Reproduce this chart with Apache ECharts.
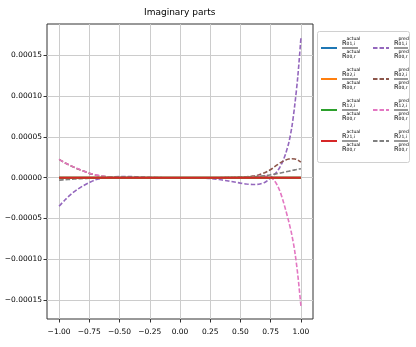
<!DOCTYPE html>
<html>
<head>
<meta charset="utf-8">
<script src="https://cdn.jsdelivr.net/npm/echarts@6/dist/echarts.min.js"></script>
<style>
  html, body { margin: 0; padding: 0; background: #fff; }
  #chart { width: 416px; height: 347px; }
</style>
</head>
<body>
<div id="chart"></div>
<script>
  // x samples (denser near the right end where the curves blow up)
  const xs = [-1, -0.95, -0.9, -0.85, -0.8, -0.75, -0.7, -0.65, -0.6, -0.55,
    -0.5, -0.45, -0.4, -0.35, -0.3, -0.25, -0.2, -0.15, -0.1, -0.05,
    0, 0.05, 0.1, 0.15, 0.2, 0.25, 0.3, 0.35, 0.4, 0.45,
    0.5, 0.55, 0.6, 0.65, 0.7, 0.725, 0.75, 0.775, 0.8, 0.825,
    0.85, 0.875, 0.9, 0.925, 0.95, 0.975, 1]

  // values in units of 1e-6
  const SCALE = 1e-6
  const actual01 = [0,0,0,0,0,0,0,0,0,0, 0,0,0,0,0,0,0,0,0,0, 0,0,0,0,0,0,0,0,0,0, 0,0,0,0,0,0,0,0,0,0, 0,0,0,0,0,0,0]
  const actual02 = [0,0,0,0,0,0,0,0,0,0, 0,0,0,0,0,0,0,0,0,0, 0,0,0,0,0,0,0,0,0,0, 0,0,0,0,0,0,0,0,0,0, 0,0,0,0,0,0,0]
  const actual12 = [0,0,0,0,0,0,0,0,0,0, 0,0,0,0,0,0,0,0,0,0, 0,0,0,0,0,0,0,0,0,0, 0,0,0,0,0,0,0,0,0,0, 0,0,0,0,0,0,0]
  const actual21 = [0,0,0,0,0,0,0,0,0,0, 0,0,0,0,0,0,0,0,0,0, 0,0,0,0,0,0,0,0,0,0, 0,0,0,0,0,0,0,0,0,0, 0,0,0,0,0,0,0]
  const pred01 = [-35, -27, -20, -14.5, -9.8, -6, -2.6, -0.8, 0.2, 1.0,
    1.4, 1.5, 1.4, 1.1, 0.8, 0.5, 0.3, 0.1, 0, 0,
    0, 0, -0.1, -0.2, -0.5, -1.0, -1.8, -2.8, -4.0, -5.3,
    -6.6, -7.7, -8.3, -8.0, -5.8, -3.4, 0, 3.2, 7, 12.5,
    20, 30, 43, 62, 90, 125, 171]
  const pred02 = [22.4, 18, 14.3, 11, 8.2, 5.3, 3.4, 2.0, 1.2, 0.5,
    0.2, 0.1, 0, 0, 0, 0, 0, 0, 0, 0,
    0, 0, 0, 0, 0, 0, 0, 0.1, 0.2, 0.4,
    0.7, 1.1, 2.0, 3.4, 6.0, 7.8, 10.0, 12.6, 15.3, 17.8,
    20, 21.7, 22.8, 23.3, 23.0, 21.6, 19.1]
  const pred12 = [22.4, 18.2, 14.5, 11.2, 8.3, 5.5, 3.5, 2.1, 1.1, 0.5,
    0.2, 0.1, 0, 0, 0, 0, 0, 0, 0, 0,
    0, 0, 0, 0, 0, 0, 0, 0, 0.1, 0.2,
    0.4, 0.7, 1.1, 1.6, 1.9, 1.6, 0.4, -2.8, -8, -16,
    -27, -40, -54, -70, -91, -120, -157]
  const pred21 = [-3.0, -2.4, -1.9, -1.4, -1.0, -0.7, -0.4, -0.2, -0.1, 0,
    0, 0, 0, 0, 0, 0, 0, 0, 0, 0,
    0, 0, 0, 0, 0, 0, 0, 0, 0.1, 0.2,
    0.4, 0.7, 1.1, 1.7, 2.5, 3.0, 3.6, 4.2, 4.9, 5.6,
    6.4, 7.2, 8.0, 8.8, 9.6, 10.3, 11.0]

  const xTicks = [-1, -0.75, -0.5, -0.25, 0, 0.25, 0.5, 0.75, 1]
  const yTicks = [-0.00015, -0.0001, -0.00005, 0, 0.00005, 0.0001, 0.00015]

  const seriesInfo = [
    { name: 'actual01', kind: 'actual', idx: '01', values: actual01, color: '#1f77b4', dashed: false },
    { name: 'actual02', kind: 'actual', idx: '02', values: actual02, color: '#ff7f0e', dashed: false },
    { name: 'actual12', kind: 'actual', idx: '12', values: actual12, color: '#2ca02c', dashed: false },
    { name: 'actual21', kind: 'actual', idx: '21', values: actual21, color: '#d62728', dashed: false },
    { name: 'pred01', kind: 'pred', idx: '01', values: pred01, color: '#9467bd', dashed: true },
    { name: 'pred02', kind: 'pred', idx: '02', values: pred02, color: '#8c564b', dashed: true },
    { name: 'pred12', kind: 'pred', idx: '12', values: pred12, color: '#e377c2', dashed: true },
    { name: 'pred21', kind: 'pred', idx: '21', values: pred21, color: '#7f7f7f', dashed: true }
  ]

  const FONT = 'DejaVu Sans'
  const minus = s => s.replace('-', '\u2212')

  /* R^{kind}_{idx,i} / R^{kind}_{00,r} as rich text */
  function fracLabel(name) {
    const s = seriesInfo.find(d => d.name === name)
    return '{sup|' + s.kind + '}\n{R|R}{sub|' + s.idx + ',i}\n{bar' + s.kind + '|}\n' +
      '{sup|' + s.kind + '}\n{R|R}{sub|00,r}'
  }

  const legendRich = {
    sup: { fontSize: 4.5, lineHeight: 4, padding: [0, 0, 0, 4.5], color: '#000', fontFamily: FONT },
    R: { fontSize: 6.5, lineHeight: 6, color: '#000', fontFamily: FONT },
    sub: { fontSize: 4.5, lineHeight: 6, verticalAlign: 'bottom', color: '#000', fontFamily: FONT },
    baractual: { width: 16, height: 0.8, lineHeight: 3, backgroundColor: '#000' },
    barpred: { width: 14, height: 0.8, lineHeight: 3, backgroundColor: '#000' }
  }

  function legendFor(kind, left) {
    return {
      data: seriesInfo.filter(d => d.kind === kind).map(d => d.name),
      orient: 'vertical',
      left: left,
      top: 36,
      padding: 0,
      itemWidth: 16,
      itemHeight: 8,
      itemGap: 7,
      selectedMode: false,
      itemStyle: { opacity: 0 },
      formatter: fracLabel,
      textStyle: { rich: legendRich, color: '#000' }
    }
  }

  const chart = echarts.init(document.getElementById('chart'))
  chart.setOption({
    animation: false,
    backgroundColor: '#fff',
    title: {
      text: 'Imaginary parts',
      left: 144,
      top: 8,
      padding: 0,
      textStyle: { fontFamily: FONT, fontSize: 9, fontWeight: 'normal', color: '#000' }
    },
    grid: {
      left: 47,
      right: 103,
      top: 24,
      bottom: 28,
      show: true,
      borderColor: '#333',
      borderWidth: 1
    },
    legend: [legendFor('actual', 320), legendFor('pred', 372)],
    graphic: [{
      type: 'rect',
      z: 1,
      shape: { x: 317.5, y: 31.5, width: 92, height: 131, r: 2 },
      style: { fill: '#fff', stroke: '#d0d0d0', lineWidth: 1 }
    }],
    xAxis: {
      type: 'value',
      min: -1.1,
      max: 1.1,
      axisLine: { show: false, onZero: false },
      axisTick: { show: true, customValues: xTicks, length: 3.5, lineStyle: { color: '#333' } },
      axisLabel: {
        customValues: xTicks,
        margin: 9,
        fontFamily: FONT,
        fontSize: 7.5,
        color: '#000',
        formatter: v => minus(v.toFixed(2))
      },
      splitLine: { show: true, lineStyle: { color: '#cccccc', width: 1 } }
    },
    yAxis: {
      type: 'value',
      min: -0.000173,
      max: 0.0001882,
      axisLine: { show: false, onZero: false },
      axisTick: { show: true, customValues: yTicks, length: 3.5, lineStyle: { color: '#333' } },
      axisLabel: {
        customValues: yTicks,
        margin: 5,
        fontFamily: FONT,
        fontSize: 7.5,
        color: '#000',
        formatter: v => minus(v.toFixed(5))
      },
      splitLine: { show: true, lineStyle: { color: '#cccccc', width: 1 } }
    },
    series: seriesInfo.map(d => ({
      name: d.name,
      type: 'line',
      symbol: 'none',
      smooth: 0.3,
      z: d.dashed ? 2 : 3,
      color: d.color,
      lineStyle: { width: d.dashed ? 1.6 : 2, color: d.color, type: d.dashed ? [4.5, 2] : 'solid' },
      data: xs.map((x, i) => [x, d.values[i] * SCALE])
    }))
  })
</script>
</body>
</html>
